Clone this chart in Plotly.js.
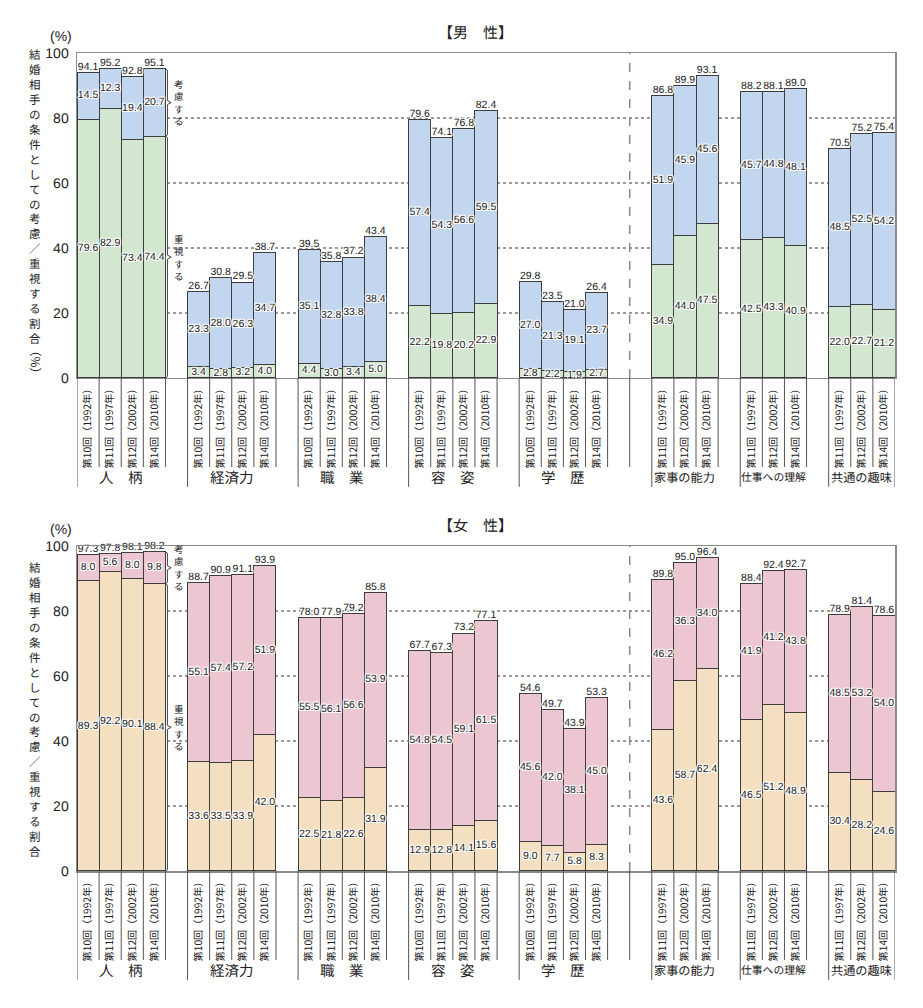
<!DOCTYPE html>
<html>
<head>
<meta charset="utf-8">
<script src="https://cdn.plot.ly/plotly-3.0.1.min.js"></script>
<style>
body{margin:0;background:#fff;}
svg text{-webkit-font-smoothing:antialiased;text-rendering:geometricPrecision;}
</style>
</head>
<body>
<div id="chart" style="width:923px;height:1008px;"></div>
<script>
// categories (groups of bars) and the survey rounds shown in each group
var groupNames = ['人　柄', '経済力', '職　業', '容　姿', '学　歴', '家事の能力', '仕事への理解', '共通の趣味'];
var groupSizes = [4, 4, 4, 4, 4, 3, 3, 3];
var roundLabels = ['第10回（1992年）', '第11回（1997年）', '第12回（2002年）', '第14回（2010年）'];

// men: 重視する (bottom), 考慮する (middle), total
var menJushi = [79.6, 82.9, 73.4, 74.4,  3.4, 2.8, 3.2, 4.0,  4.4, 3.0, 3.4, 5.0,
                22.2, 19.8, 20.2, 22.9,  2.8, 2.2, 1.9, 2.7,  34.9, 44.0, 47.5,
                42.5, 43.3, 40.9,  22.0, 22.7, 21.2];
var menKoryo = [14.5, 12.3, 19.4, 20.7,  23.3, 28.0, 26.3, 34.7,  35.1, 32.8, 33.8, 38.4,
                57.4, 54.3, 56.6, 59.5,  27.0, 21.3, 19.1, 23.7,  51.9, 45.9, 45.6,
                45.7, 44.8, 48.1,  48.5, 52.5, 54.2];
var menTotal = [94.1, 95.2, 92.8, 95.1,  26.7, 30.8, 29.5, 38.7,  39.5, 35.8, 37.2, 43.4,
                79.6, 74.1, 76.8, 82.4,  29.8, 23.5, 21.0, 26.4,  86.8, 89.9, 93.1,
                88.2, 88.1, 89.0,  70.5, 75.2, 75.4];

// women: 重視する (bottom), 考慮する (middle), total
var womenJushi = [89.3, 92.2, 90.1, 88.4,  33.6, 33.5, 33.9, 42.0,  22.5, 21.8, 22.6, 31.9,
                  12.9, 12.8, 14.1, 15.6,  9.0, 7.7, 5.8, 8.3,  43.6, 58.7, 62.4,
                  46.5, 51.2, 48.9,  30.4, 28.2, 24.6];
var womenKoryo = [8.0, 5.6, 8.0, 9.8,  55.1, 57.4, 57.2, 51.9,  55.5, 56.1, 56.6, 53.9,
                  54.8, 54.5, 59.1, 61.5,  45.6, 42.0, 38.1, 45.0,  46.2, 36.3, 34.0,
                  41.9, 41.2, 43.8,  48.5, 53.2, 54.0];
var womenTotal = [97.3, 97.8, 98.1, 98.2,  88.7, 90.9, 91.1, 93.9,  78.0, 77.9, 79.2, 85.8,
                  67.7, 67.3, 73.2, 77.1,  54.6, 49.7, 43.9, 53.3,  89.8, 95.0, 96.4,
                  88.4, 92.4, 92.7,  78.9, 81.4, 78.6];

var yTitle = '結婚相手の条件としての考慮／重視する割合';

// colours
var menColors = ['#d3e6d0', '#c2d7ef'];
var womenColors = ['#f5dfc1', '#ecc6d0'];
var outline = '#3d3d3d';
var numFont = 'Liberation Sans Narrow, Arial Narrow, Liberation Sans, sans-serif';
var jpFont = 'Noto Sans CJK JP';
var halo = '1px 0 0 #fff, -1px 0 0 #fff, 0 1px 0 #fff, 0 -1px 0 #fff, 1px 1px 0 #fff, -1px -1px 0 #fff, 1px -1px 0 #fff, -1px 1px 0 #fff';

// bar x positions: bars are 1 unit wide, 1 unit gap between groups,
// 2 units round the dashed divider after 学歴
var xs = [], tickText = [], groupStart = [], groupEnd = [];
var pos = 0, divider = 0;
groupSizes.forEach(function (n, g) {
  groupStart.push(pos);
  var rounds = (n == 4) ? roundLabels : roundLabels.slice(1);
  for (var i = 0; i < n; i++) {
    xs.push(pos + i + 0.5);
    tickText.push(rounds[i]);
  }
  pos += n;
  groupEnd.push(pos);
  if (g == 4) { divider = pos + 1; pos += 2; }
  else pos += 1;
});
var xMax = groupEnd[groupEnd.length - 1];

function fmt(arr) { return arr.map(function (v) { return v.toFixed(1); }); }

function panelTraces(xa, ya, jushi, koryo, total, colors) {
  var midBottom = jushi.map(function (v) { return v / 2; });
  var midTop = jushi.map(function (v, i) { return v + koryo[i] / 2; });
  var tf = {family: numFont, size: 10.5, color: '#222', shadow: halo};
  return [
    {type: 'bar', x: xs, y: jushi, xaxis: xa, yaxis: ya, width: 1,
     marker: {color: colors[0], line: {color: outline, width: 1}}, hoverinfo: 'y'},
    {type: 'bar', x: xs, y: koryo, xaxis: xa, yaxis: ya, width: 1,
     marker: {color: colors[1], line: {color: outline, width: 1}}, hoverinfo: 'y'},
    {type: 'scatter', mode: 'text', x: xs, y: midBottom, text: fmt(jushi), xaxis: xa, yaxis: ya,
     textposition: 'middle center', textfont: tf, cliponaxis: false, hoverinfo: 'skip'},
    {type: 'scatter', mode: 'text', x: xs, y: midTop, text: fmt(koryo), xaxis: xa, yaxis: ya,
     textposition: 'middle center', textfont: tf, cliponaxis: false, hoverinfo: 'skip'},
    {type: 'scatter', mode: 'text', x: xs, y: total, text: fmt(total), xaxis: xa, yaxis: ya,
     textposition: 'top center', textfont: tf, cliponaxis: false, hoverinfo: 'skip',
     marker: {size: 2}}
  ];
}

function panelShapes(xa, ya, jushi, total) {
  var dom = ya + ' domain';
  var shapes = [];
  // dashed divider
  shapes.push({type: 'line', xref: xa, yref: ya, x0: divider, x1: divider, y0: 0, y1: 100,
               line: {color: '#8a8a8a', width: 1.5, dash: 'dash'}});
  shapes.push({type: 'line', xref: xa, yref: dom, x0: divider, x1: divider, y0: 0, y1: -0.274,
               line: {color: '#555', width: 1}});
  // separators in the tick-label area
  groupStart.forEach(function (s, g) {
    for (var e = s; e <= groupEnd[g]; e++) {
      var longLine = (e == s) || (g == groupStart.length - 1 && e == groupEnd[g]);
      shapes.push({type: 'line', xref: xa, yref: dom, x0: e, x1: e, y0: 0,
                   y1: longLine ? -0.335 : -0.274, line: {color: '#555', width: 1}});
    }
  });
  // braces beside the 4th 人柄 bar
  var bx = groupEnd[0] + 0.09, tip = groupEnd[0] + 0.26, hook = groupEnd[0] + 0.01;
  function brace(lo, hi) {
    var mid = (lo + hi) / 2, d = 0.6;
    return {type: 'path', xref: xa, yref: ya, line: {color: '#444', width: 1},
            path: 'M' + hook + ',' + hi + ' L' + bx + ',' + (hi - 0.4) + ' L' + bx + ',' + (mid + d) +
                  ' L' + tip + ',' + mid + ' L' + bx + ',' + (mid - d) + ' L' + bx + ',' + (lo + 0.4) +
                  ' L' + hook + ',' + lo};
  }
  shapes.push(brace(jushi[3], total[3]));
  shapes.push(brace(0, jushi[3]));
  return shapes;
}

function panelAnnotations(xa, ya, jushi, total, title, titleY, withUnit) {
  var dom = ya + ' domain';
  var ann = [];
  ann.push({xref: 'paper', yref: dom, x: 0.487, y: 1 + 21 / 325, text: title, showarrow: false,
            font: {family: jpFont, size: 15, color: '#222'}, xanchor: 'center', yanchor: 'middle'});
  ann.push({xref: 'paper', yref: dom, x: -0.02, y: 1 + 17 / 325, text: '(%)', showarrow: false,
            font: {family: 'Liberation Sans, sans-serif', size: 14, color: '#222'}, xanchor: 'center', yanchor: 'middle'});
  // vertical y title, one glyph per line
  ann.push({xref: 'paper', yref: dom, x: -0.051, y: titleY, text: yTitle.split('').join('<br>'),
            showarrow: false, xanchor: 'center', yanchor: 'middle',
            font: {family: jpFont, size: 11.5, color: '#222'}});
  if (withUnit) {
    ann.push({xref: 'paper', yref: dom, x: -0.051, y: 0.05,
              text: '（%）', textangle: 90, showarrow: false, xanchor: 'center', yanchor: 'middle',
              font: {family: jpFont, size: 12, color: '#222'}});
  }
  // group names
  groupNames.forEach(function (name, g) {
    var size = name.length >= 6 ? 10.8 : (name.length == 5 ? 12.2 : 14.5);
    ann.push({xref: xa, yref: dom, x: (groupStart[g] + groupEnd[g]) / 2, y: -0.305, text: name,
              showarrow: false, xanchor: 'center', yanchor: 'middle',
              font: {family: jpFont, size: size, color: '#222'}});
  });
  // brace captions
  var cx = groupEnd[0] + 0.62;
  ann.push({xref: xa, yref: ya, x: cx, y: (jushi[3] + total[3]) / 2, text: '考<br>慮<br>す<br>る',
            showarrow: false, font: {family: jpFont, size: 9.5, color: '#222'}, xanchor: 'center', yanchor: 'middle'});
  ann.push({xref: xa, yref: ya, x: cx, y: jushi[3] / 2, text: '重<br>視<br>す<br>る',
            showarrow: false, font: {family: jpFont, size: 9.5, color: '#222'}, xanchor: 'center', yanchor: 'middle'});
  return ann;
}

var data = panelTraces('x', 'y', menJushi, menKoryo, menTotal, menColors)
  .concat(panelTraces('x2', 'y2', womenJushi, womenKoryo, womenTotal, womenColors));

function xAxis(anchor) {
  return {anchor: anchor, range: [0, xMax], tickmode: 'array', tickvals: xs, ticktext: tickText,
          tickangle: -90, ticks: '', showgrid: false, zeroline: false, fixedrange: true,
          showline: true, mirror: true, linecolor: '#8a8a8a', linewidth: 1.5,
          tickfont: {family: jpFont, size: 10.2, color: '#222'}};
}
function yAxis(anchor, domain) {
  return {anchor: anchor, domain: domain, range: [0, 100], tickvals: [0, 20, 40, 60, 80, 100],
          ticks: '', ticklabelstandoff: 4, showgrid: true, gridcolor: '#9a9a9a', griddash: 'dot',
          gridwidth: 1.2, zeroline: false, showline: true, mirror: true, linecolor: '#8a8a8a',
          linewidth: 1.5, fixedrange: true, tickfont: {family: numFont, size: 14, color: '#222'}};
}

var layout = {
  width: 923, height: 1008,
  margin: {l: 77, r: 28, t: 53, b: 137},
  paper_bgcolor: '#fff', plot_bgcolor: '#fff',
  barmode: 'stack', bargap: 0, showlegend: false,
  xaxis: xAxis('y'), yaxis: yAxis('x', [0.6027, 1]),
  xaxis2: xAxis('y2'), yaxis2: yAxis('x2', [0, 0.3973]),
  shapes: panelShapes('x', 'y', menJushi, menTotal).concat(panelShapes('x2', 'y2', womenJushi, womenTotal)),
  annotations: panelAnnotations('x', 'y', menJushi, menTotal, '【男　性】', 0.557, true)
    .concat(panelAnnotations('x2', 'y2', womenJushi, womenTotal, '【女　性】', 0.495, false))
};

Plotly.newPlot('chart', data, layout, {displayModeBar: false, staticPlot: true});
</script>
</body>
</html>
